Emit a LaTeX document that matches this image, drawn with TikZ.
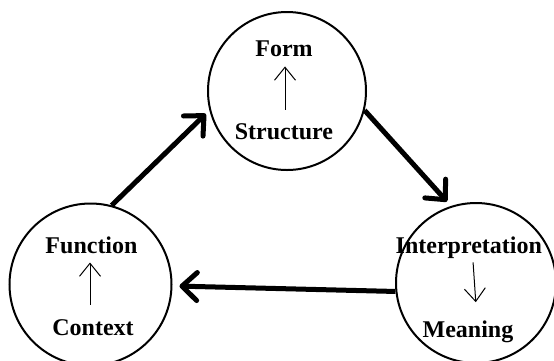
\documentclass[tikz,border=0pt]{standalone}
\usepackage{fontspec}
\setmainfont{Liberation Serif}
\usetikzlibrary{arrows.meta}
\begin{document}
\begin{tikzpicture}[x=1pt,y=-1pt,
  circ/.style={draw, circle, line width=2pt, minimum size=#1, inner sep=0pt},
  lbl/.style={font=\fontsize{24}{28}\selectfont\bfseries, inner sep=0pt, anchor=base},
  bigarrow/.style={line width=5pt, -{Straight Barb[length=15pt,width=28pt,round]}},
  smallarrow/.style={line width=1pt, -{Straight Barb[length=13pt,width=21pt]}}
]
\useasboundingbox (0,0) rectangle (554,360);
\node[circ=158pt] (top) at (287,91) {};
\node[circ=162pt] (left) at (90.5,284.5) {};
\node[circ=160pt] (right) at (476,283) {};

\node[lbl] (form) at (284,56) {Form};
\node[lbl] (struct) at (284,139) {Structure};
\node[lbl] (func) at (91.5,253) {Function};
\node[lbl] (ctx) at (93,335) {Context};
\node[lbl] (interp) at (468.8,253) {Interpretation};
\node[lbl] (mean) at (468,337) {Meaning};

\draw[smallarrow, shorten <=13pt, shorten >=10pt] ([xshift=1pt]struct.north) -- ([xshift=1pt]form.south);
\draw[smallarrow, shorten <=14pt, shorten >=9pt] ([xshift=-3pt]ctx.north) -- ([xshift=-1.5pt]func.south);
\draw[smallarrow, shorten <=4pt, shorten >=18pt] ([xshift=4pt]interp.south) -- ([xshift=9pt]mean.north);

\draw[bigarrow, shorten >=5pt] (left.75) -- (top.194);
\draw[bigarrow, shorten >=6pt] (top.-14.5) -- (right.108);
\draw[bigarrow, shorten >=7pt] (right.186) -- (left.-1);
\end{tikzpicture}
\end{document}
